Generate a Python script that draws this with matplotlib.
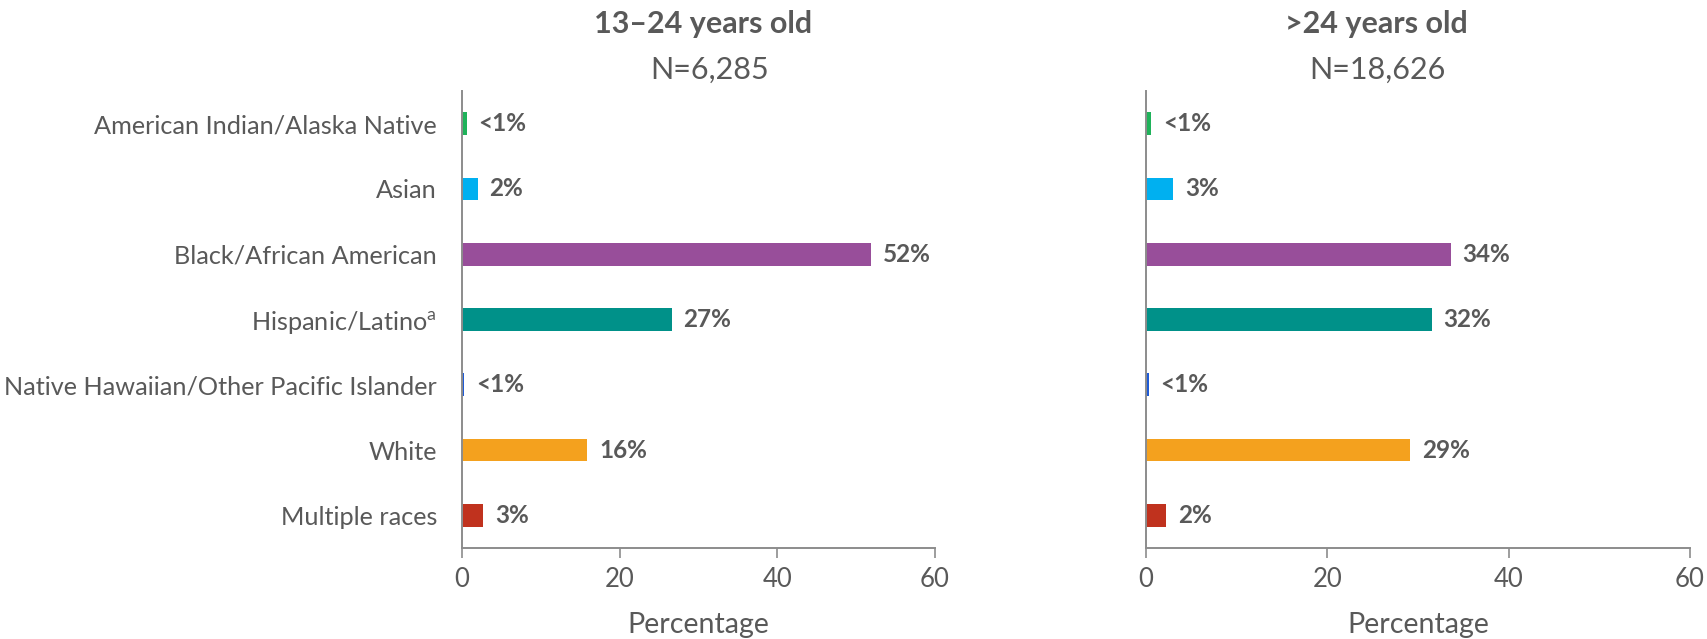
import matplotlib
matplotlib.use("Agg")
import matplotlib.pyplot as plt

plt.rcParams['font.family'] = ['Lato', 'DejaVu Sans']
plt.rcParams['mathtext.fontset'] = 'custom'
plt.rcParams['mathtext.rm'] = 'Lato'

categories = ["American Indian/Alaska Native", "Asian", "Black/African American",
              "Hispanic/Latino$^{\\mathrm{a}}$", "Native Hawaiian/Other Pacific Islander",
              "White", "Multiple races"]
colors = ["#1FB25A", "#00B0F0", "#984E9A", "#009189", "#1F5BD6", "#F4A11E", "#C0321E"]

young_values = [0.6, 2.0, 51.9, 26.6, 0.25, 15.9, 2.7]
young_labels = ["<1%", "2%", "52%", "27%", "<1%", "16%", "3%"]
older_values = [0.6, 3.0, 33.6, 31.5, 0.3, 29.1, 2.2]
older_labels = ["<1%", "3%", "34%", "32%", "<1%", "29%", "2%"]

titles = ["13\u201324 years old", ">24 years old"]
subtitles = ["N=6,285", "N=18,626"]
xticks = [0, 20, 40, 60]

TXT = "#595959"
AX = "#8C8C8C"
W, H = 1708, 639
fig = plt.figure(figsize=(W / 100, H / 100), dpi=100)

def fx(px):
    return px / W

def fy(py):
    return 1 - py / H

ax_top, ax_bot = 91, 548
axes_px = [(462, 935), (1146, 1690)]
title_x = [703, 1376]
sub_x = [710, 1377]

panels = [(young_values, young_labels), (older_values, older_labels)]
for i, ((x0, x1), (vals, labs)) in enumerate(zip(axes_px, panels)):
    ax = fig.add_axes([fx(x0), fy(ax_bot), fx(x1 - x0), (ax_bot - ax_top) / H])
    y = list(range(len(categories)))
    ax.barh(y, vals, height=0.35, color=colors, edgecolor="none")
    for yi, v, lab in zip(y, vals, labs):
        ax.annotate(lab, (v, yi), xytext=(8.5, 0), textcoords="offset points",
                    va="center", ha="left", fontsize=17.5, fontweight="bold", color=TXT)
    ax.set_xlim(0, 60)
    ax.set_ylim(len(categories) - 0.5, -0.5)
    ax.set_xticks(xticks)
    ax.set_xticklabels([str(t) for t in xticks])
    ax.tick_params(axis="x", length=7, width=1.2, color=AX, labelcolor=TXT,
                   labelsize=18.5, pad=7)
    ax.tick_params(axis="y", length=0, labelcolor=TXT, labelsize=18.2, pad=18)
    ax.set_yticks(y)
    if i == 0:
        ax.set_yticklabels(categories)
    else:
        ax.set_yticklabels([])
    for s in ["top", "right"]:
        ax.spines[s].set_visible(False)
    for s in ["left", "bottom"]:
        ax.spines[s].set_color(AX)
        ax.spines[s].set_linewidth(1.4)
    ax.set_xlabel("Percentage", fontsize=20.6, color=TXT, labelpad=14)
    fig.text(fx(title_x[i]), fy(24), titles[i], ha="center", va="center",
             fontsize=22, fontweight="bold", color=TXT)
    fig.text(fx(sub_x[i]), fy(70), subtitles[i], ha="center", va="center",
             fontsize=22, color=TXT)

fig.savefig("out.png", dpi=100)
